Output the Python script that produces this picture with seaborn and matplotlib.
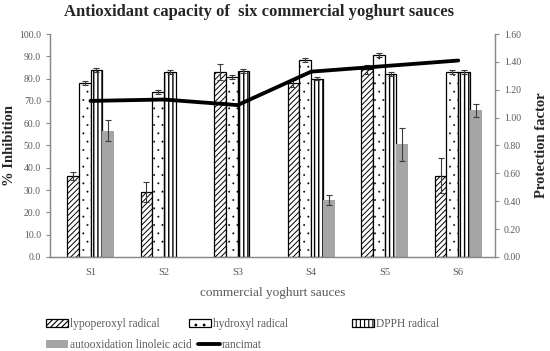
import numpy as np
import pandas as pd
import matplotlib
matplotlib.use("Agg")
import matplotlib.pyplot as plt
import seaborn as sns
from matplotlib.patches import Patch
from matplotlib.lines import Line2D
from matplotlib.ticker import MultipleLocator, FormatStrFormatter

# data
samples = ["S1", "S2", "S3", "S4", "S5", "S6"]
series = ["lypoperoxyl radical", "hydroxyl radical", "DPPH radical",
          "autooxidation linoleic acid"]
lypo = [36.3, 29.1, 83.0, 77.9, 84.2, 36.4]
lypo_err = [2.0, 4.6, 3.4, 1.6, 2.0, 7.8]
hydroxyl = [78.1, 74.0, 80.7, 88.3, 90.5, 83.0]
hydroxyl_err = [0.9, 0.9, 0.9, 1.0, 1.0, 0.9]
dpph = [84.0, 83.0, 83.4, 80.0, 82.2, 83.0]
dpph_err = [0.9, 0.8, 0.8, 0.8, 0.9, 0.9]
autoox = [56.6, 0.0, 0.0, 25.5, 50.5, 65.8]
autoox_err = [4.7, np.nan, np.nan, 2.3, 7.5, 3.0]
rancimat = [1.12, 1.13, 1.09, 1.33, 1.37, 1.41]

values = [lypo, hydroxyl, dpph, autoox]
errors = [lypo_err, hydroxyl_err, dpph_err, autoox_err]
hatches = ["//////", "..", "||||", None]
hatch_lw = [0.7, 0.15, 1.0, 0.7]
gray_bar = "#a5a5a5"
axis_gray = "#898989"
text_gray = "#595959"

df = pd.DataFrame({
    "sample": np.tile(samples, len(series)),
    "series": np.repeat(series, len(samples)),
    "value": np.concatenate(values),
})

sns.set_style("white")
plt.rcParams["font.family"] = ["Liberation Serif", "DejaVu Serif"]
plt.rcParams["hatch.linewidth"] = 0.8


def style_patch(p, h, lw):
    if h is None:
        p.set_edgecolor("none")
        return
    p.set_edgecolor("black")
    p.set_linewidth(0.9)
    p.set_hatch(h)
    if hasattr(p, "set_hatch_linewidth"):
        p.set_hatch_linewidth(lw)


fig = plt.figure(figsize=(5.5, 3.51), dpi=100)
ax = fig.add_axes([0.091, 0.268, 0.809, 0.635])

sns.barplot(data=df, x="sample", y="value", hue="series", hue_order=series,
            palette=["white", "white", "white", gray_bar], width=0.64,
            errorbar=None, legend=False, ax=ax)

for cont, h, lw, err in zip(ax.containers, hatches, hatch_lw, errors):
    xs = []
    ys = []
    for p in cont.patches:
        style_patch(p, h, lw)
        xs.append(p.get_x() + p.get_width() / 2)
        ys.append(p.get_height())
    ax.errorbar(xs, ys, yerr=err, fmt="none", ecolor="#3a3a3a",
                elinewidth=0.8, capsize=2, capthick=0.8, zorder=3)

ax.set_ylim(0, 100)
ax.set_xlim(-0.55, 5.5)
ax.yaxis.set_major_locator(MultipleLocator(10))
ax.yaxis.set_major_formatter(FormatStrFormatter("%.1f"))
ax.tick_params(axis="y", direction="out", length=3, color=axis_gray,
               labelsize=7, labelcolor=text_gray, left=True)
ax.tick_params(axis="x", length=0, labelsize=7.5, labelcolor=text_gray, pad=8)
ax.set_ylabel("% Inhibition", fontsize=10.5, fontweight="bold", labelpad=2)
ax.set_xlabel("commercial yoghurt sauces", fontsize=9.5, color=text_gray,
              labelpad=7)
for s in ["left", "right", "bottom"]:
    ax.spines[s].set_color(axis_gray)
    ax.spines[s].set_linewidth(0.9)
ax.spines["top"].set_visible(False)

ax2 = ax.twinx()
sns.lineplot(x=np.arange(len(samples)), y=rancimat, color="black",
             linewidth=2.75, ax=ax2)
ax2.set_ylim(0, 1.6)
ax2.yaxis.set_major_locator(MultipleLocator(0.2))
ax2.yaxis.set_major_formatter(FormatStrFormatter("%.2f"))
ax2.tick_params(axis="y", direction="out", length=3, color=axis_gray,
                labelsize=7, labelcolor=text_gray, right=True)
ax2.set_ylabel("Protection factor", fontsize=10.5, fontweight="bold",
               labelpad=10)
for s in ["left", "right", "bottom"]:
    ax2.spines[s].set_color(axis_gray)
    ax2.spines[s].set_linewidth(0.9)
ax2.spines["top"].set_visible(False)

fig.suptitle("Antioxidant capacity of  six commercial yoghurt sauces",
             x=0.47, y=0.99, fontsize=12, fontweight="bold")

# legend entries placed one by one, like the Excel legend
handles = []
for h, lw, fc in zip(hatches, hatch_lw, ["white", "white", "white", gray_bar]):
    hp = Patch(facecolor=fc)
    style_patch(hp, h, lw)
    handles.append(hp)
handles.append(Line2D([0], [0], color="black", linewidth=2.75))
labels = series + ["rancimat"]
spots = [(46, 324), (189, 324), (352, 324), (46, 345), (198, 345)]
for hd, lb, (px, py) in zip(handles, labels, spots):
    fig.legend([hd], [lb], frameon=False, loc="center left",
               bbox_to_anchor=(px / 550, 1 - py / 351),
               fontsize=8.3, handlelength=1.9, handleheight=0.6,
               handletextpad=0.15, borderpad=0, borderaxespad=0,
               labelcolor=text_gray)

fig.savefig("out.png", dpi=100)
